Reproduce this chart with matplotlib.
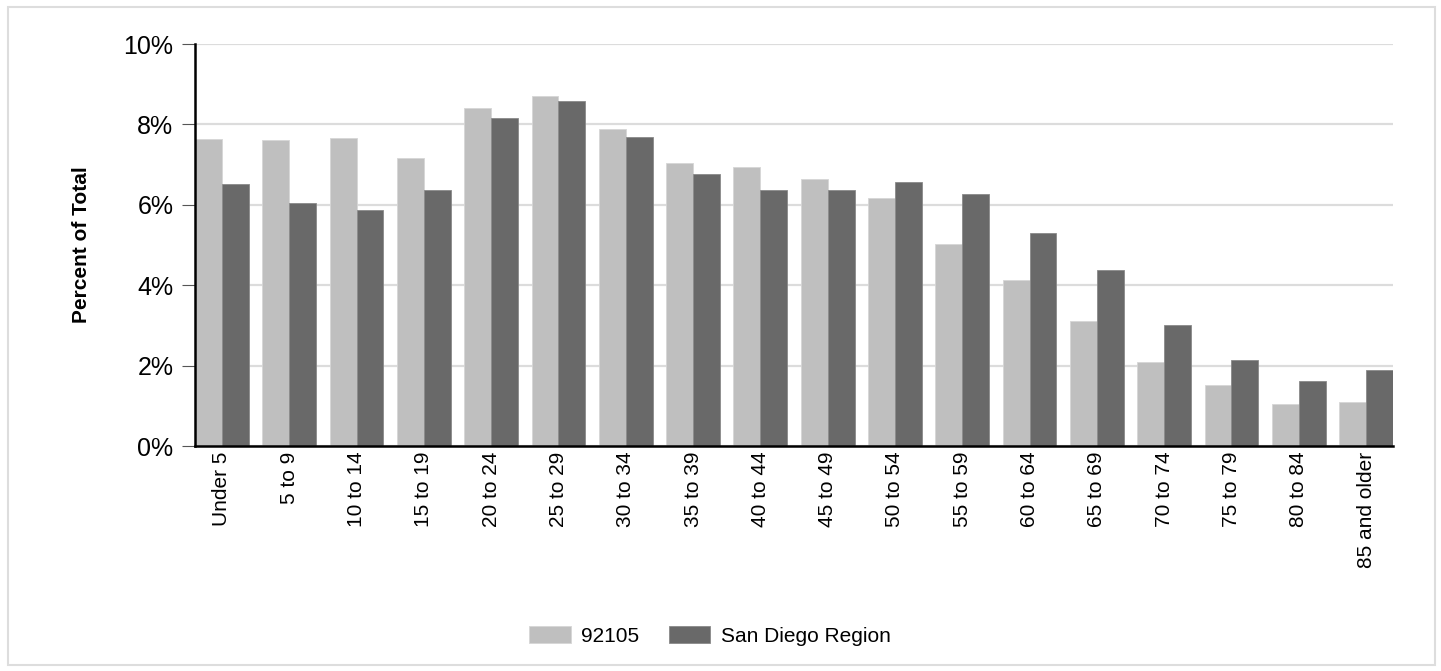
import matplotlib
matplotlib.use("Agg")
import matplotlib.pyplot as plt
import numpy as np
from matplotlib.patches import Rectangle
from matplotlib.ticker import FuncFormatter

plt.rcParams['font.family'] = ['Liberation Sans', 'DejaVu Sans']

categories = ["Under 5", "5 to 9", "10 to 14", "15 to 19", "20 to 24", "25 to 29",
              "30 to 34", "35 to 39", "40 to 44", "45 to 49", "50 to 54", "55 to 59",
              "60 to 64", "65 to 69", "70 to 74", "75 to 79", "80 to 84", "85 and older"]
zip_92105 = [7.63, 7.61, 7.66, 7.16, 8.42, 8.70, 7.88, 7.04, 6.94, 6.64, 6.18, 5.02,
             4.13, 3.11, 2.09, 1.51, 1.05, 1.10]
san_diego = [6.51, 6.05, 5.87, 6.38, 8.17, 8.58, 7.69, 6.76, 6.37, 6.37, 6.57, 6.26,
             5.29, 4.39, 3.00, 2.14, 1.61, 1.88]
series_names = ["92105", "San Diego Region"]
yticks = [0, 2, 4, 6, 8, 10]

fig = plt.figure(figsize=(14.41, 6.71), dpi=100)
fig.patches.append(Rectangle((8/1441, 1 - 665/671), 1427/1441, 658/671,
                             transform=fig.transFigure, fill=False,
                             edgecolor='#dddddd', linewidth=1.5, zorder=0))

ax = fig.add_axes([195/1441, 1 - 446/671, 1198/1441, 402/671])
x = np.arange(len(categories))
w = 0.4
ax.bar(x - w/2, zip_92105, width=w, color='#bfbfbf', edgecolor='#d6d6d6',
       linewidth=0.6, label=series_names[0], zorder=3)
ax.bar(x + w/2, san_diego, width=w, color='#696969', edgecolor='#8a8a8a',
       linewidth=0.6, label=series_names[1], zorder=3)

ax.set_xlim(-0.4, len(categories) - 0.6)
ax.set_ylim(0, 10)
ax.set_yticks(yticks)
ax.yaxis.set_major_formatter(FuncFormatter(lambda v, p: f"{int(v)}%"))
ax.set_xticks(x)
ax.set_xticklabels(categories, rotation=90, fontsize=15)
ax.tick_params(axis='x', length=0, pad=4)
ax.tick_params(axis='y', length=9.5, width=0.8, color='#555555', labelsize=18, pad=6)

ax.grid(axis='y', color='#dcdcdc', linewidth=1.6, zorder=0)
ax.set_axisbelow(True)
for s in ['top', 'right']:
    ax.spines[s].set_visible(False)
for s in ['left', 'bottom']:
    ax.spines[s].set_linewidth(1.8)
    ax.spines[s].set_zorder(4)

ax.set_ylabel("Percent of Total", fontsize=15, fontweight='bold')
ax.yaxis.set_label_coords((91 - 195) / 1198, 0.5)

fig.legend(loc='center', bbox_to_anchor=(710/1441, 1 - 636/671), ncol=2,
           frameon=False, fontsize=15, handlelength=2.0, handleheight=0.87,
           handletextpad=0.5, columnspacing=1.4)

fig.savefig("out.png", dpi=100)
